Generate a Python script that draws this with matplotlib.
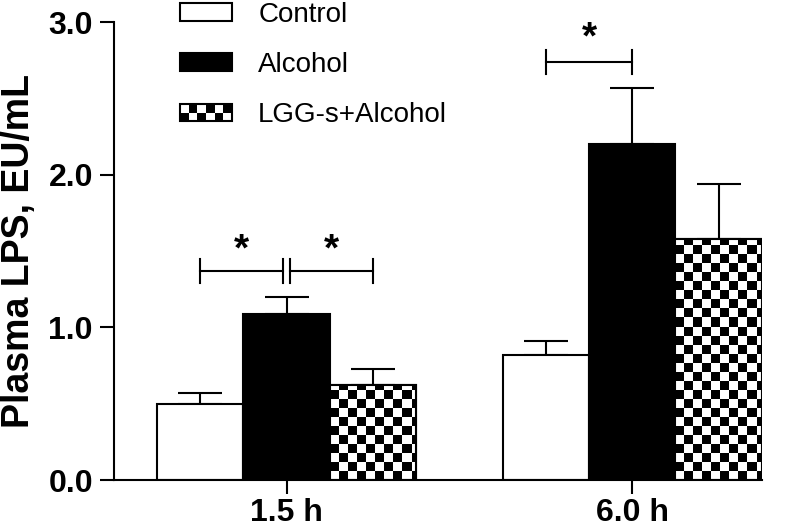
import numpy as np
import matplotlib
matplotlib.use("Agg")
import matplotlib.pyplot as plt
from matplotlib.patches import Rectangle, Patch
from matplotlib.legend_handler import HandlerPatch

plt.rcParams["font.family"] = ["Liberation Sans", "DejaVu Sans"]

groups = ["1.5 h", "6.0 h"]
series = ["Control", "Alcohol", "LGG-s+Alcohol"]
control = [0.50, 0.82]
alcohol = [1.09, 2.20]
lgg = [0.62, 1.58]
control_err = [0.07, 0.09]
alcohol_err = [0.11, 0.37]
lgg_err = [0.11, 0.36]

# significance brackets: (x start, x end, y) in data units, stars at (x, y)
brackets = [(-0.25, -0.009, 1.37), (0.009, 0.25, 1.37), (0.75, 1.0, 2.74)]
stars = [(-0.13, 1.505), (0.13, 1.505), (0.875, 2.89)]

fig = plt.figure(figsize=(8.07, 5.27), dpi=100)
ax = fig.add_axes([0.141, 0.089, 0.803, 0.869])

x = np.arange(len(groups))
w = 0.25
vals = [control, alcohol, lgg]
errs = [control_err, alcohol_err, lgg_err]
bars = []
for i, (v, e) in enumerate(zip(vals, errs)):
    fc = ["white", "black", "white"][i]
    b = ax.bar(x + (i - 1) * w, v, w, color=fc, edgecolor="black", linewidth=1.5, zorder=2)
    ax.errorbar(x + (i - 1) * w, v, yerr=[np.zeros(len(v)), e], fmt="none",
                ecolor="black", elinewidth=1.5, capsize=16, capthick=1.5, zorder=1)
    bars.append(b)

ax.set_xlim(-0.5, 1.375)
ax.set_ylim(0, 3.0)

# checker fill for LGG bars
fig.canvas.draw()
px_per_x = ax.transData.transform((1, 0))[0] - ax.transData.transform((0, 0))[0]
px_per_y = ax.transData.transform((0, 1))[1] - ax.transData.transform((0, 0))[1]
cell = 9.0
for rect in bars[2]:
    x0, y0 = rect.get_x(), rect.get_y()
    bw, bh = rect.get_width(), rect.get_height()
    cw = cell / px_per_x
    ch = cell / px_per_y
    nx = int(np.ceil(bw / cw))
    ny = int(np.ceil(bh / ch))
    ii, jj = np.indices((ny, nx))
    img = ((ii + jj) % 2).astype(float)
    im = ax.imshow(img, extent=(x0, x0 + nx * cw, y0, y0 + ny * ch), cmap="gray_r",
                   interpolation="nearest", aspect="auto", origin="lower", zorder=2.1)
    im.set_clip_path(rect)
    ax.add_patch(Rectangle((x0, y0), bw, bh, fc="none", ec="black", lw=1.5, zorder=2.2))

ax.set_xlim(-0.5, 1.375)
ax.set_ylim(0, 3.0)

for xs, xe, y in brackets:
    ax.plot([xs, xe], [y, y], color="black", lw=1.5, clip_on=False)
    for xv in (xs, xe):
        ax.plot([xv, xv], [y - 0.08, y + 0.08], color="black", lw=1.5, clip_on=False)
for sx, sy in stars:
    ax.text(sx, sy, "*", ha="center", va="center", fontsize=28, fontweight="bold")

ax.spines["top"].set_visible(False)
ax.spines["right"].set_visible(False)
ax.spines["left"].set_linewidth(1.5)
ax.spines["bottom"].set_linewidth(1.5)
ax.set_yticks([0, 1, 2, 3])
ax.set_yticklabels(["0.0", "1.0", "2.0", "3.0"])
ax.set_xticks(x)
ax.set_xticklabels(groups)
ax.tick_params(axis="y", length=10, width=1.5, labelsize=23, pad=5)
ax.tick_params(axis="x", length=10, width=1.5, labelsize=23, pad=3)
for lab in ax.get_xticklabels() + ax.get_yticklabels():
    lab.set_fontweight("bold")
ax.set_ylabel("Plasma LPS, EU/mL", fontsize=27, fontweight="bold", labelpad=8)


class CheckerHandler(HandlerPatch):
    def create_artists(self, legend, orig_handle, xdescent, ydescent, width, height, fontsize, trans):
        arts = []
        nx, ny = 6, 2
        cw, ch = width / nx, height / ny
        for i in range(nx):
            for j in range(ny):
                if (i + j) % 2 == 0:
                    arts.append(Rectangle((-xdescent + i * cw, -ydescent + j * ch), cw, ch,
                                          fc="black", ec="none", transform=trans))
        arts.append(Rectangle((-xdescent, -ydescent), width, height, fc="none",
                              ec="black", lw=1.5, transform=trans))
        return arts


handles = [Patch(fc="white", ec="black", lw=1.5),
           Patch(fc="black", ec="black", lw=1.5),
           Patch(fc="white", ec="black", lw=1.5)]
ax.legend(handles, series, loc="upper left", bbox_to_anchor=(0.102, 1.045), frameon=False,
          fontsize=20, handlelength=1.87, handleheight=0.6, handletextpad=0.95,
          labelspacing=0.88, borderpad=0, borderaxespad=0,
          handler_map={handles[2]: CheckerHandler()})

fig.savefig("out.png", dpi=100)
